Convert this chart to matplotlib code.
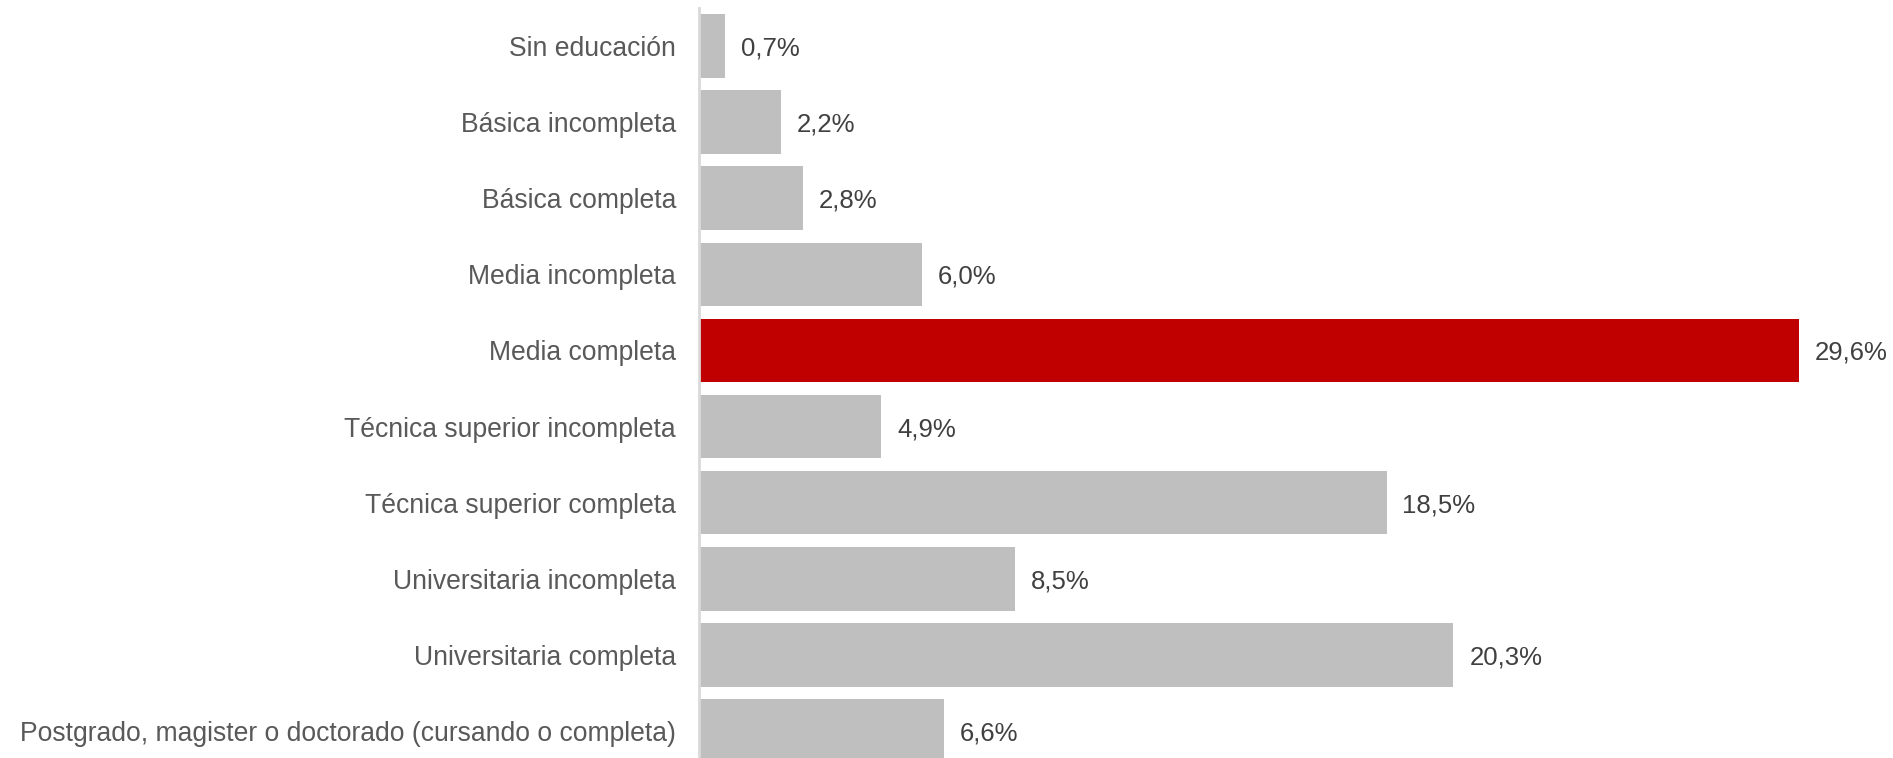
import matplotlib
matplotlib.use("Agg")
import matplotlib.pyplot as plt

categories = [
    "Sin educación",
    "Básica incompleta",
    "Básica completa",
    "Media incompleta",
    "Media completa",
    "Técnica superior incompleta",
    "Técnica superior completa",
    "Universitaria incompleta",
    "Universitaria completa",
    "Postgrado, magister o doctorado (cursando o completa)",
]
values = [0.7, 2.2, 2.8, 6.0, 29.6, 4.9, 18.5, 8.5, 20.3, 6.6]
labels = ["0,7%", "2,2%", "2,8%", "6,0%", "29,6%", "4,9%", "18,5%", "8,5%", "20,3%", "6,6%"]
highlight = "Media completa"

plt.rcParams['font.family'] = ['Liberation Sans', 'DejaVu Sans']

W, H = 1893, 758
fig = plt.figure(figsize=(W / 100, H / 100), dpi=100)
left_px = 699
top_px = 8
ax = fig.add_axes([left_px / W, 0, 1 - left_px / W, 1 - top_px / H])

px_per_unit = (1799 - 699) / 29.6
ax.set_xlim(0, (W - left_px) / px_per_unit)
spacing = 76.1
ax.set_ylim(-0.5 + (H - top_px) / spacing, -0.5)

colors = ["#C00000" if c == highlight else "#BFBFBF" for c in categories]
ypos = list(range(len(categories)))
ax.barh(ypos, values, height=0.835, color=colors)

for y, v, lab in zip(ypos, values, labels):
    ax.annotate(lab, xy=(v, y), xytext=(11.5, 0), textcoords="offset points",
                ha="left", va="center_baseline", fontsize=18.5, color="#404040")

ax.set_yticks(ypos)
ax.set_yticklabels(categories, fontsize=19.1, color="#595959", va="center_baseline")
ax.tick_params(axis="y", length=0, pad=16.5)
ax.set_xticks([])
for s in ["top", "right", "bottom"]:
    ax.spines[s].set_visible(False)
ax.spines["left"].set_color("#D9D9D9")
ax.spines["left"].set_linewidth(2)

fig.savefig("out.png", dpi=100)
